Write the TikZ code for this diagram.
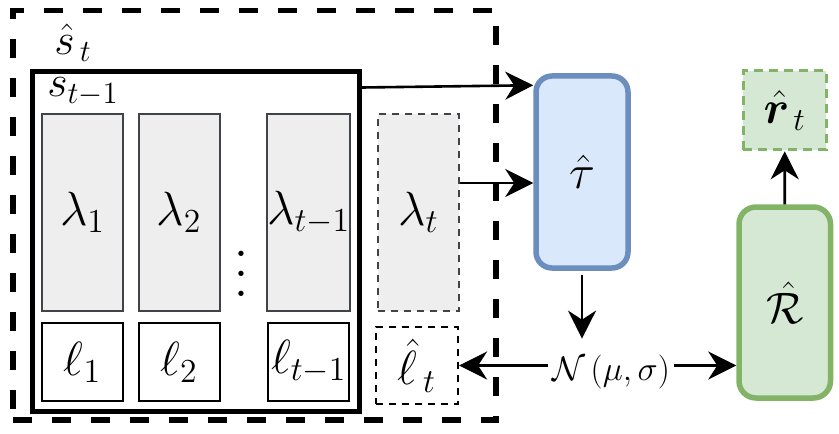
\RequirePackage{fix-cm}
\documentclass[tikz,border=0pt]{standalone}
\usepackage{amsmath,bm}
\usetikzlibrary{arrows.meta}
\definecolor{boxgray}{HTML}{EEEEEE}
\definecolor{edgegray}{HTML}{404347}
\definecolor{blueedge}{HTML}{6C8EBF}
\definecolor{bluefill}{HTML}{DAE8FC}
\definecolor{greenedge}{HTML}{82B366}
\definecolor{greenfill}{HTML}{D5E8D4}
\tikzstyle{outerbox} = [
    rectangle,
    minimum width=241.5pt, minimum height=204.75pt,
    draw=black, line width=2.75pt, dash pattern=on 9.5pt off 10pt
]
\tikzstyle{statebox} = [
    rectangle,
    minimum width=163.5pt, minimum height=169.75pt,
    draw=black, line width=2.5pt
]
\tikzstyle{statelabel} = [
    inner sep=0pt,
    font=\fontsize{22}{26}\selectfont
]
\tikzstyle{lambdabox} = [
    rectangle, inner sep=0pt,
    minimum width=40.5pt, minimum height=98.5pt,
    text centered, font=\fontsize{24}{28}\selectfont,
    draw=edgegray, line width=1pt, fill=boxgray
]
\tikzstyle{lambdanew} = [
    lambdabox, dash pattern=on 3.5pt off 3pt, line width=1.1pt
]
\tikzstyle{lossbox} = [
    rectangle, inner sep=0pt,
    minimum width=40.5pt, minimum height=39pt,
    text centered, font=\fontsize{24}{28}\selectfont,
    draw=black, line width=1pt
]
\tikzstyle{lossnew} = [
    lossbox, minimum width=41pt, minimum height=38.5pt,
    dash pattern=on 3.5pt off 3pt, line width=1.1pt
]
\tikzstyle{tauhead} = [
    rectangle, rounded corners=8pt, inner sep=0pt,
    minimum width=46pt, minimum height=96pt,
    text centered, font=\fontsize{24}{28}\selectfont,
    draw=blueedge, line width=2.75pt, fill=bluefill
]
\tikzstyle{rewardnet} = [
    rectangle, rounded corners=8.5pt, inner sep=0pt,
    minimum width=45.75pt, minimum height=95.5pt,
    text centered, font=\fontsize{22}{26}\selectfont,
    draw=greenedge, line width=2.75pt, fill=greenfill
]
\tikzstyle{rewardout} = [
    rectangle, inner sep=0pt,
    minimum width=41.5pt, minimum height=39.5pt,
    text centered, font=\fontsize{23}{27}\selectfont,
    draw=greenedge, line width=1.5pt, dash pattern=on 4.5pt off 3pt,
    fill=greenfill
]
\tikzstyle{noise} = [
    inner xsep=2pt, inner ysep=8pt,
    font=\fontsize{17}{20}\selectfont
]
\tikzstyle{arrow} = [line width=1.3pt,-{Stealth[length=14pt,width=14pt,inset=4.5pt]}]

\begin{document}
\begin{tikzpicture}[x=0.5pt, y=-0.5pt]
        \useasboundingbox (0,0) rectangle (839,433);
        % Draw blocks
        \node (shat) [outerbox] at (254.5,215.25) {};
        \node (shatlbl) [statelabel] at (73,43) {$\hat{s}_{\mkern3mu t}$};
        \node (sprev) [statebox] at (196,241.75) {};
        \node (sprevlbl) [statelabel] at (83,92) {$s_{t-1}$};

        \node (lam1) [lambdabox] at (82.5,212.5) {$\lambda_1$};
        \node (lam2) [lambdabox] at (179,212.5) {$\lambda_2$};
        \node (lamprev) [lambdabox] at (308.75,212.5) {$\lambda_{t-1}$};
        \node (lamt) [lambdanew] at (418.3,212.5) {$\lambda_t$};
        \node (dots) [scale=2.5] at (241,259) {$\vdots$};

        \node (loss1) [lossbox] at (82.5,362) {$\ell_1$};
        \node (loss2) [lossbox] at (179,362) {$\ell_2$};
        \node (lossprev) [lossbox] at (308.75,362) {$\ell_{t-1}$};
        \node (lhat) [lossnew] at (417,365.5) {$\hat{\ell}_{\mkern3mu t}$};

        \node (tau) [tauhead] at (582,172) {$\hat{\tau}$};
        \node (N) [noise] at (611,372) {$\mathcal{N}\left(\mu,\sigma\right)$};
        \node (R) [rewardnet] at (784.75,302.5) {$\hat{\mathcal{R}}$};
        \node (rhat) [rewardout] at (784.7,110.3) {$\hat{\bm{r}}_{\mkern3mu t}$};

        % Draw arrows
        \coordinate (lamtout) at ([yshift=14.75pt]lamt.east);
        \draw [arrow] ([yshift=-9pt]sprev.north east) -- ([yshift=-6pt]tau.north west);
        \draw [arrow] (lamtout) -- (lamtout -| tau.west);
        \draw [arrow] ([yshift=-2pt]tau.south) -- (tau.south |- N.north);
        \draw [arrow] (lhat.east -| N.west) -- (lhat.east);
        \draw [arrow] (lhat.east -| N.east) -- (lhat.east -| R.west);
        \draw [arrow] (R) -- (rhat);
    \end{tikzpicture}
\end{document}
